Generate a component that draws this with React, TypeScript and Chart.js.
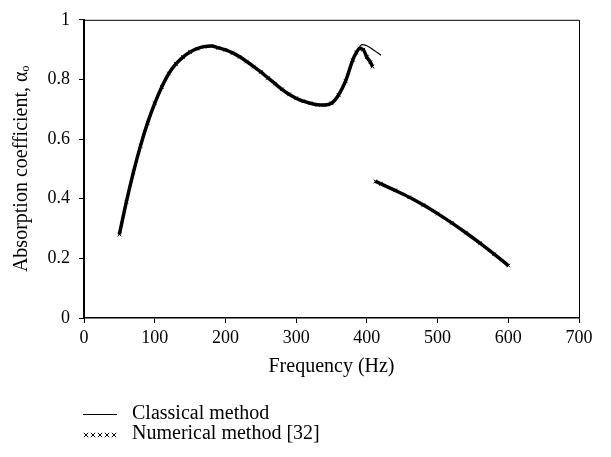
import React, { useEffect, useRef } from "react";
import { Chart, registerables } from "chart.js";

Chart.register(...registerables);

// Frequency (Hz) and absorption coefficient values
const numFreqA = [50, 60, 70, 80, 90, 100, 110, 120, 130, 140, 150, 160, 170, 180, 190, 200, 210, 220, 230, 240, 250, 260, 270, 280, 290, 300, 310, 320, 330, 340, 350, 360, 370, 380, 385, 390, 395, 400, 405, 408];
const numAlphaA = [0.28, 0.39, 0.49, 0.578, 0.655, 0.72, 0.775, 0.82, 0.852, 0.875, 0.892, 0.903, 0.91, 0.912, 0.906, 0.899, 0.889, 0.876, 0.86, 0.843, 0.825, 0.805, 0.786, 0.767, 0.75, 0.737, 0.727, 0.72, 0.715, 0.714, 0.72, 0.748, 0.795, 0.865, 0.89, 0.904, 0.9, 0.875, 0.858, 0.843];

const classFreqA = [50, 60, 70, 80, 90, 100, 110, 120, 130, 140, 150, 160, 170, 180, 190, 200, 210, 220, 230, 240, 250, 260, 270, 280, 290, 300, 310, 320, 330, 340, 350, 360, 370, 380, 385, 390, 393, 400, 410, 420];
const classAlphaA = [0.28, 0.39, 0.49, 0.578, 0.655, 0.72, 0.775, 0.82, 0.852, 0.875, 0.892, 0.903, 0.91, 0.912, 0.906, 0.899, 0.889, 0.876, 0.86, 0.843, 0.825, 0.805, 0.786, 0.767, 0.75, 0.737, 0.727, 0.72, 0.715, 0.714, 0.72, 0.748, 0.795, 0.865, 0.892, 0.91, 0.917, 0.913, 0.898, 0.881];

const freqB = [412, 420, 440, 460, 480, 500, 520, 540, 560, 580, 600];
const alphaB = [0.458, 0.45, 0.428, 0.405, 0.379, 0.35, 0.319, 0.286, 0.251, 0.214, 0.176];

const xTicks = [0, 100, 200, 300, 400, 500, 600, 700];
const yTicks = [0, 0.2, 0.4, 0.6, 0.8, 1];

const seriesLabels = ["Classical method", "Numerical method [32]"];
const xTitle = "Frequency (Hz)";
const yTitle = "Absorption coefficient, αₒ";

const FONT = "'Liberation Serif', 'Times New Roman', serif";

function build(fa: number[], ya: number[], fb: number[], yb: number[]) {
  const pts: { x: number; y: number | null }[] = [];
  fa.forEach((f, i) => pts.push({ x: f, y: ya[i] }));
  pts.push({ x: 411, y: null });
  fb.forEach((f, i) => pts.push({ x: f, y: yb[i] }));
  return pts;
}

const framePlugin = {
  id: "frame",
  afterDatasetsDraw(chart: any) {
    const { ctx, chartArea } = chart;
    ctx.save();
    ctx.strokeStyle = "#000";
    ctx.lineWidth = 1;
    ctx.beginPath();
    ctx.moveTo(chartArea.left, chartArea.top + 0.5);
    ctx.lineTo(chartArea.right + 0.5, chartArea.top + 0.5);
    ctx.lineTo(chartArea.right + 0.5, chartArea.bottom);
    ctx.stroke();
    ctx.restore();
  },
};

const legendPlugin = {
  id: "customLegend",
  afterDraw(chart: any) {
    const { ctx } = chart;
    ctx.save();
    ctx.fillStyle = "#000";
    ctx.strokeStyle = "#000";
    ctx.font = `20px ${FONT}`;
    ctx.textBaseline = "middle";
    ctx.textAlign = "left";
    // classical
    ctx.lineWidth = 1;
    ctx.beginPath();
    ctx.moveTo(83, 414.5);
    ctx.lineTo(117, 414.5);
    ctx.stroke();
    ctx.fillText(chart.data.datasets[0].label, 132, 414);
    // numerical
    for (let i = 0; i < 5; i++) {
      const cx = 86 + i * 7;
      const cy = 435;
      ctx.beginPath();
      ctx.moveTo(cx - 2.2, cy - 2.2);
      ctx.lineTo(cx + 2.2, cy + 2.2);
      ctx.moveTo(cx + 2.2, cy - 2.2);
      ctx.lineTo(cx - 2.2, cy + 2.2);
      ctx.stroke();
    }
    ctx.fillText(chart.data.datasets[1].label, 132, 434);
    ctx.restore();
  },
};

export default function App() {
  const ref = useRef<HTMLCanvasElement | null>(null);
  useEffect(() => {
    if (!ref.current) return;
    const chart = new Chart(ref.current, {
      type: "line",
      data: {
        datasets: [
          {
            label: seriesLabels[0],
            data: build(classFreqA, classAlphaA, freqB, alphaB),
            borderColor: "#000",
            borderWidth: 1.2,
            pointRadius: 0,
            cubicInterpolationMode: "monotone",
            spanGaps: false,
            order: 1,
          },
          {
            label: seriesLabels[1],
            data: build(numFreqA, numAlphaA, freqB, alphaB),
            borderColor: "#000",
            backgroundColor: "#000",
            borderWidth: 3.5,
            pointStyle: "crossRot",
            pointRadius: 2.5,
            pointBorderWidth: 1,
            pointBorderColor: "#000",
            cubicInterpolationMode: "monotone",
            spanGaps: false,
            order: 0,
          },
        ],
      },
      options: {
        animation: false,
        responsive: false,
        maintainAspectRatio: false,
        layout: { padding: { left: 0, right: 32, top: 14, bottom: 78 } },
        plugins: {
          legend: { display: false },
          tooltip: { enabled: false },
        },
        scales: {
          x: {
            type: "linear",
            min: 0,
            max: 700,
            afterBuildTicks: (s: any) => {
              s.ticks = xTicks.map((v) => ({ value: v }));
            },
            afterFit: (s: any) => {
              s.height = 61;
            },
            ticks: {
              color: "#000",
              font: { family: FONT, size: 18 },
              padding: 4,
              maxRotation: 0,
              callback: (v: any) => String(v),
            },
            grid: {
              drawOnChartArea: false,
              drawTicks: true,
              tickLength: 5,
              color: "#000",
              lineWidth: 1,
            },
            border: { display: true, color: "#000", width: 1.5 },
            title: {
              display: true,
              text: xTitle,
              color: "#000",
              font: { family: FONT, size: 20 },
              padding: { top: 0, bottom: 0 },
            },
          },
          y: {
            type: "linear",
            min: 0,
            max: 1,
            afterBuildTicks: (s: any) => {
              s.ticks = yTicks.map((v) => ({ value: v }));
            },
            afterFit: (s: any) => {
              s.width = 84;
            },
            ticks: {
              color: "#000",
              font: { family: FONT, size: 18 },
              padding: 9,
              callback: (v: any) => String(Math.round(Number(v) * 10) / 10),
            },
            grid: {
              drawOnChartArea: false,
              drawTicks: true,
              tickLength: 5,
              color: "#000",
              lineWidth: 1,
            },
            border: { display: true, color: "#000", width: 2 },
            title: {
              display: true,
              text: yTitle,
              color: "#000",
              font: { family: FONT, size: 20 },
              padding: { top: 10, bottom: 0 },
            },
          },
        },
      },
      plugins: [framePlugin, legendPlugin],
    });
    return () => chart.destroy();
  }, []);
  return (
    <div style={{ position: "absolute", left: 0, top: 0, width: 611, height: 457, background: "#fff" }}>
      <canvas ref={ref} width={611} height={457} style={{ display: "block" }} />
    </div>
  );
}
